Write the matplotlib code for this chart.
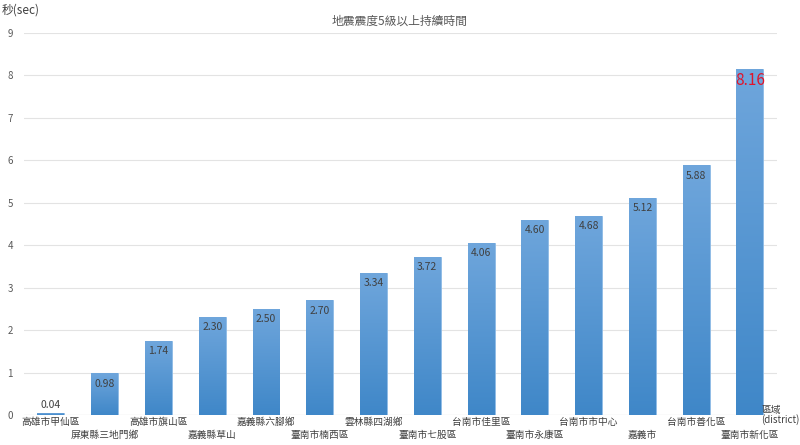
import numpy as np
import matplotlib
matplotlib.use("Agg")
import matplotlib.pyplot as plt
from matplotlib.colors import LinearSegmentedColormap

plt.rcParams['font.family'] = ['Noto Sans CJK TC', 'DejaVu Sans']

# ----- data -----
districts = ["高雄市甲仙區", "屏東縣三地門鄉", "高雄市旗山區", "嘉義縣草山", "嘉義縣六腳鄉",
             "臺南市楠西區", "雲林縣四湖鄉", "臺南市七股區", "台南市佳里區", "臺南市永康區",
             "台南市市中心", "嘉義市", "台南市善化區", "臺南市新化區"]
seconds = [0.04, 0.98, 1.74, 2.30, 2.50, 2.70, 3.34, 3.72, 4.06, 4.60, 4.68, 5.12, 5.88, 8.16]
yticks = list(range(0, 10))

fig = plt.figure(figsize=(8, 4.45), dpi=100)
ax = fig.add_axes([0.03, 0.0674, 0.941, 0.8584])

x = np.arange(len(districts))
bars = ax.bar(x, seconds, width=0.5, color="#5b9bd5", edgecolor="#8dbbe6", lw=0.6, zorder=2)

# vertical gradient in each bar (lighter top, darker bottom)
cmap = LinearSegmentedColormap.from_list("g", ["#3f87c8", "#6fa6dc"])
grad = np.linspace(0, 1, 256).reshape(-1, 1)
for b in bars:
    x0, w, h = b.get_x(), b.get_width(), b.get_height()
    im = ax.imshow(grad, cmap=cmap, origin="lower", aspect="auto",
                   extent=[x0, x0 + w, 0, h], zorder=2.5)
    im.set_clip_path(b)

# value labels
for i, v in enumerate(seconds):
    if i == len(seconds) - 1:
        ax.text(i, v - 0.08, f"{v:.2f}", ha="center", va="top", color="#e0142a", fontsize=11)
    elif v < 0.5:
        ax.text(i, v + 0.08, f"{v:.2f}", ha="center", va="bottom", color="#404040", fontsize=7.5)
    else:
        ax.text(i, v - 0.12, f"{v:.2f}", ha="center", va="top", color="#404040", fontsize=7.5)

ax.set_xlim(-0.5, len(districts) - 0.5)
ax.set_ylim(0, 9)
ax.set_yticks(yticks)
ax.tick_params(axis="y", length=0, labelsize=7, colors="#595959", pad=8)
ax.grid(axis="y", color="#e3e3e3", lw=0.8, zorder=0)
for s in ax.spines.values():
    s.set_visible(False)
ax.axhline(0, color="#d0d0d0", lw=0.8, zorder=1)

# staggered category labels
ax.set_xticks([])
for i, name in enumerate(districts):
    ax.annotate(name, (i, 0), xytext=(0, -1.5 if i % 2 == 0 else -10.5), textcoords="offset points",
                ha="center", va="top", fontsize=7, color="#404040", annotation_clip=False)

ax.annotate("區域\n(district)", (len(districts) - 0.5, 0), xytext=(-11, 0), textcoords="offset points",
            ha="left", va="center", fontsize=7, color="#404040", linespacing=0.95,
            annotation_clip=False)

fig.text(0.5, 0.953, "地震震度5級以上持續時間", ha="center", va="center", fontsize=8.5, color="#595959")
fig.text(0.002, 0.978, "秒(sec)", ha="left", va="center", fontsize=8.5, color="#404040")

fig.savefig("out.png", dpi=100)
